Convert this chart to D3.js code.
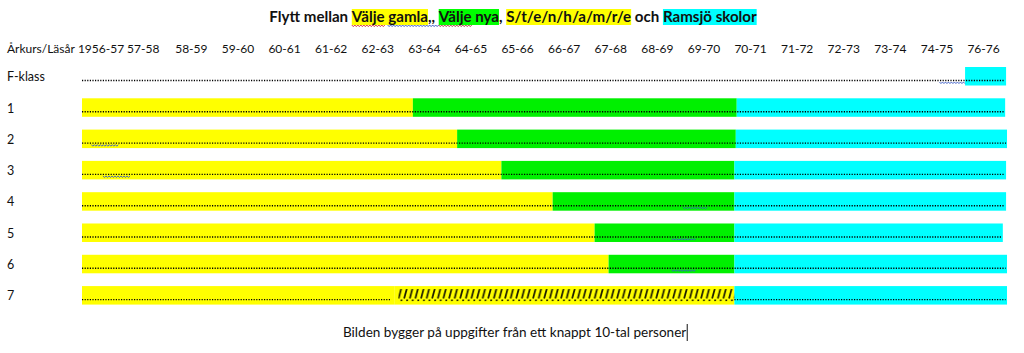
<!DOCTYPE html>
<html>
<head>
<meta charset="utf-8">
<script src="https://cdn.jsdelivr.net/npm/d3@7"></script>
<style>
  html, body { margin: 0; padding: 0; background: #fff; }
  svg { display: block; }
  text { font-family: Lato, "Noto Sans", sans-serif; fill: #111; white-space: pre; }
</style>
</head>
<body>
<svg id="chart" width="1024" height="353"></svg>
<script>
// ---------- DATA ----------
const rowLabels = ["F-klass", "1", "2", "3", "4", "5", "6", "7"];
const yearTicks = [1956, 1957, 1958, 1959, 1960, 1961, 1962, 1963, 1964, 1965,
                   1966, 1967, 1968, 1969, 1970, 1971, 1972, 1973, 1974, 1975];
const tickLabels = ["1956-57", "57-58", "58-59", "59-60", "60-61", "61-62", "62-63",
                    "63-64", "64-65", "65-66", "66-67", "67-68", "68-69", "69-70",
                    "70-71", "71-72", "72-73", "73-74", "74-75", "76-76"];
const headerLabel = "Årkurs/Läsår";

// school periods per row: [start, end] in school-year units (null = none)
const valjeGamla = [null, [1956, 1963.1], [1956, 1964.05], [1956, 1965.0], [1956, 1966.1],
                    [1956, 1967.0], [1956, 1967.3], [1956, 1962.7]];
const valjeNya   = [null, [1963.1, 1970.05], [1964.05, 1970.03], [1965.0, 1970.0], [1966.1, 1970.0],
                    [1967.0, 1970.0], [1967.3, 1970.0], null];
const stenhamre  = [null, null, null, null, null, null, null, [1962.7, 1970.0]];
const ramsjo     = [[1974.95, 1975.83], [1970.05, 1975.81], [1970.03, 1975.85], [1970.0, 1975.83],
                    [1970.0, 1975.83], [1970.0, 1975.76], [1970.0, 1975.85], [1970.0, 1975.85]];
// leader (dotted) lines per row
const leaderEnd  = [1975.8, 1975.8, 1975.83, 1975.8, 1975.8, 1975.74, 1975.82, 1975.82];
// proof-reading squiggles [row, from, to]
const squiggles = [[0, 1974.4, 1974.93], [2, 1956.2, 1956.75], [3, 1956.45, 1957.0],
                   [4, 1968.9, 1969.4], [5, 1968.65, 1969.15], [6, 1968.65, 1969.15]];

const titleParts = [
  { t: "Flytt mellan ", bg: null },
  { t: "Välje gamla", bg: "#ffff00" },
  { t: ",, ", bg: null },
  { t: "Välje nya", bg: "#00ff00" },
  { t: ", ", bg: null },
  { t: "S/t/e/n/h/a/m/r/e", bg: "#ffff00" },
  { t: " och ", bg: null },
  { t: "Ramsjö skolor", bg: "#00ffff" }
];
const footerText = "Bilden bygger på uppgifter från ett knappt 10-tal personer";

// ---------- LAYOUT ----------
const svg = d3.select("#chart");
const x = d3.scaleLinear().domain([1956, 1976]).range([82, 82 + 20 * 46.6]);
const y = d3.scaleBand().domain(rowLabels).range([67, 67 + 8 * 29.85]).paddingInner(0.37).paddingOuter(0);
const barH = 18.5;
const colors = { gamla: "#ffff00", nya: "#00f000", sten: "#ffff00", ramsjo: "#00ffff" };

// ---------- TITLE ----------
const titleG = svg.append("g");
const titleFont = 15.1;
let cx = 0;
const parts = titleParts.map(p => {
  const t = titleG.append("text").attr("font-size", titleFont).attr("font-weight", "bold")
    .attr("y", 22).text(p.t);
  const w = t.node().getComputedTextLength();
  const o = { p, t, x0: cx, w };
  cx += w;
  return o;
});
const titleStart = 513 - cx / 2;
parts.forEach(o => {
  o.t.attr("x", titleStart + o.x0);
  if (o.p.bg) {
    titleG.insert("rect", "text").attr("x", titleStart + o.x0).attr("y", 9)
      .attr("width", o.w).attr("height", 16).attr("fill", o.p.bg);
  }
});
function wavy(g, x0, x1, yy, color) {
  let d = `M${x0},${yy}`;
  for (let xx = x0, k = 0; xx < x1; xx += 1.5, k++) d += `L${xx + 1.5},${yy + (k % 2 ? 0 : 1.6)}`;
  g.append("path").attr("d", d).attr("fill", "none").attr("stroke", color).attr("stroke-width", 0.9);
}
// spelling marks under title words
(function () {
  const g = parts[1]; const gn = parts[3];
  const vw = g.t.node().getSubStringLength(0, 5);
  wavy(titleG, titleStart + g.x0, titleStart + g.x0 + vw, 25, "#d02020");
  wavy(titleG, titleStart + g.x0 + vw + 3, titleStart + parts[2].x0 + 10, 25, "#3050c0");
  const vn = gn.t.node().getSubStringLength(0, 5);
  wavy(titleG, titleStart + gn.x0, titleStart + gn.x0 + vn, 25, "#a03030");
})();

// ---------- HEADER ROW ----------
const headG = svg.append("g").attr("font-size", 12);
const hdr = headG.append("text").attr("x", 7).attr("y", 53).text(headerLabel);
let flowX = 7 + hdr.node().getComputedTextLength();
const spaceW = 3;
tickLabels.forEach((lab, i) => {
  const t = headG.append("text").attr("y", 53).text(lab);
  let xx;
  if (i < 2) { xx = flowX + spaceW; }   // typed inline after the heading
  else { xx = x(yearTicks[i]); }         // tab stops
  t.attr("x", xx);
  flowX = xx + t.node().getComputedTextLength();
});

// ---------- ROW LABELS ----------
svg.append("g").attr("font-size", 12.5).selectAll("text").data(rowLabels).join("text")
  .attr("x", 7).attr("y", d => y(d) + barH / 2 + 5).text(d => d);

// ---------- BARS ----------
function segs(arr, key) {
  return arr.map((s, i) => s ? { row: rowLabels[i], s: s[0], e: s[1], key } : null).filter(Boolean);
}
const allSegs = [...segs(valjeGamla, "gamla"), ...segs(valjeNya, "nya"),
                 ...segs(stenhamre, "sten"), ...segs(ramsjo, "ramsjo")];
svg.append("g").selectAll("rect").data(allSegs).join("rect")
  .attr("x", d => x(d.s)).attr("y", d => y(d.row))
  .attr("width", d => x(d.e) - x(d.s)).attr("height", barH)
  .attr("fill", d => colors[d.key]);

// hatch pattern (typed slashes) for Stenhamre
const defs = svg.append("defs");
const pat = defs.append("pattern").attr("id", "slash").attr("patternUnits", "userSpaceOnUse")
  .attr("width", 5.6).attr("height", 13);
pat.append("line").attr("x1", 1).attr("y1", 12.5).attr("x2", 4.2).attr("y2", 0.5)
  .attr("stroke", "#1a1a00").attr("stroke-width", 1.7);
svg.append("g").selectAll("rect").data(segs(stenhamre, "sten")).join("rect")
  .attr("x", d => x(d.s) + 4).attr("y", d => y(d.row) + 3)
  .attr("width", d => x(d.e) - x(d.s) - 4).attr("height", 12)
  .attr("fill", "url(#slash)");

// dotted leader lines
const leaders = rowLabels.map((r, i) => {
  const out = [];
  const st = stenhamre[i];
  if (st) {
    out.push({ row: r, s: 1956, e: st[0] - 0.06 });
    out.push({ row: r, s: st[1], e: leaderEnd[i] });
  } else out.push({ row: r, s: 1956, e: leaderEnd[i] });
  return out;
}).flat();
svg.append("g").selectAll("line").data(leaders).join("line")
  .attr("x1", d => x(d.s)).attr("x2", d => x(d.e))
  .attr("y1", d => y(d.row) + barH - 5).attr("y2", d => y(d.row) + barH - 5)
  .attr("stroke", "#000").attr("stroke-width", 1.4).attr("stroke-dasharray", "1.2,1.4");

// grammar squiggles
const sqG = svg.append("g");
squiggles.forEach(([ri, a, b]) => {
  wavy(sqG, x(a), x(b), y(rowLabels[ri]) + barH - 3.5, "#3a5bc7");
});

// ---------- FOOTER ----------
const foot = svg.append("text").attr("font-size", 13.55).attr("x", 343).attr("y", 337).text(footerText);
const fw = foot.node().getComputedTextLength();
svg.append("line").attr("x1", 343 + fw + 1).attr("x2", 343 + fw + 1).attr("y1", 324).attr("y2", 341)
  .attr("stroke", "#111").attr("stroke-width", 1);
</script>
</body>
</html>
